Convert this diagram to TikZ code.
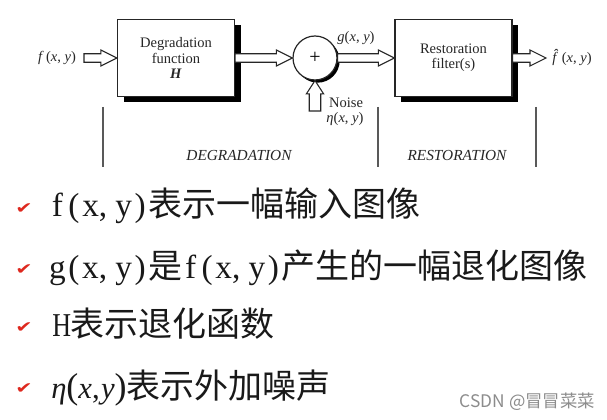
\documentclass[tikz,border=0pt]{standalone}
\usepackage{fontspec}
\setmainfont{Liberation Serif}
\newfontfamily\cjk{Noto Sans CJK SC}
\newfontfamily\symf{DejaVu Sans}
\usetikzlibrary{shadows,calc}
\definecolor{chkred}{RGB}{222,40,30}
\newcommand\hw[1]{\makebox[12.4pt][c]{#1}}
\newcommand\hwl[1]{\makebox[12.4pt][l]{#1}}
\newcommand\zh{\cjk\fontsize{25.5}{28}\selectfont}
\newcommand\bigp[1]{{\fontsize{27}{27}\selectfont #1}}
\begin{document}
\begin{tikzpicture}[x=0.75pt,y=-0.75pt,
  txt/.style={text=black!85, inner sep=0pt, font=\fontsize{10.9}{12.5}\selectfont},
  blk/.style={draw=black!85, line width=0.9pt, fill=white, minimum width=87.75pt, minimum height=57.75pt,
    align=center, inner sep=0pt, text=black!85, font=\fontsize{10.9}{11.3}\selectfont,
    general shadow={fill=black, shadow xshift=4.5pt, shadow yshift=-4.5pt}},
  sumc/.style={circle, draw=black!85, line width=0.9pt, fill=white, minimum size=33pt, inner sep=0pt,
    general shadow={fill=black, shadow xshift=2pt, shadow yshift=-2pt}},
  harrow/.style={fill=white, draw=black!85, line width=0.8pt, line join=miter,
    to path={let \p1=(\tikztostart), \p2=(\tikztotarget) in
      (\x1,\y1+3.2pt) -- (\x2-12pt,\y1+3.2pt) -- (\x2-12pt,\y1+6pt) -- (\x2,\y1)
      -- (\x2-12pt,\y1-6pt) -- (\x2-12pt,\y1-3.2pt) -- (\x1,\y1-3.2pt) -- cycle}},
  varrow/.style={fill=white, draw=black!85, line width=0.8pt, line join=miter,
    to path={let \p1=(\tikztostart), \p2=(\tikztotarget) in
      (\x1-4.3pt,\y1) -- (\x1-4.3pt,\y2-10pt) -- (\x1-6.5pt,\y2-10pt) -- (\x1,\y2)
      -- (\x1+6.5pt,\y2-10pt) -- (\x1+4.3pt,\y2-10pt) -- (\x1+4.3pt,\y1) -- cycle}},
  div/.style={draw=black!65, line width=0.9pt},
  sect/.style={text=black!85, inner sep=0pt, font=\fontsize{11.5}{13}\selectfont\itshape},
  chk/.style={text=chkred, inner sep=0pt, font=\symf\fontsize{15.5}{16}\selectfont},
  bline/.style={anchor=base west, inner sep=0pt, text=black!90, font=\fontsize{25}{28}\selectfont},
]
\useasboundingbox (0,0) rectangle (607,420);
\fill[white] (0,0) rectangle (607,420);

% blocks
\node[blk] (deg) at (176,58) {Degradation\\function\\\textbf{\textit{H}}};
\node[blk] (res) at (453.5,58) {Restoration\\filter(s)};
\node[sumc] (sum) at (315,58) {\fontsize{15}{15}\selectfont +};

% connectors
\coordinate (in) at (84,58);
\coordinate (out) at (546,58);
\coordinate (nz) at (315,111);
\draw[harrow] (in) to (deg.west);
\draw[harrow] (deg.east) to (sum.west);
\draw[harrow] (sum.east) to (res.west);
\draw[harrow] (res.east) to (out);
\draw[varrow] (nz) to (sum.south);

% labels
\node[txt] (fxy) at (57,58) {\textit{f}\,(\textit{x}, \textit{y})};
\node[txt] (gxy) at (356,38) {\textit{g}(\textit{x}, \textit{y})};
\node[txt] (fhat) at (572,58) {\textit{f^^^^0302}(\textit{x}, \textit{y})};
\node[txt] (noise) at (346,103) {Noise};
\node[txt] (eta) at (345,119) {\textit{η}(\textit{x}, \textit{y})};

% dividers
\draw[div] (103,107) -- (103,167);
\draw[div] (378,107) -- (378,167);
\draw[div] (536,107) -- (536,167);
\node[sect] (dlab) at (239,156) {DEGRADATION};
\node[sect] (rlab) at (457,156) {RESTORATION};

% bullet lines
\node[chk] (k1) at (24,209) {\scalebox{1}[0.75]{✔}};
\node[chk] (k2) at (24,270) {\scalebox{1}[0.75]{✔}};
\node[chk] (k3) at (24,328) {\scalebox{1}[0.75]{✔}};
\node[chk] (k4) at (24,389) {\scalebox{1}[0.75]{✔}};
\node[bline] (t1) at (49,217) {\hw{f}\hw{(}\hw{x}\hwl{,}\hw{y}\hw{)}{\zh 表示一幅输入图像}};
\node[bline] (t2) at (49,279) {\hw{g}\hw{(}\hw{x}\hwl{,}\hw{y}\hw{)}{\zh 是}\hw{f}\hw{(}\hw{x}\hwl{,}\hw{y}\hw{)}{\zh 产生的一幅退化图像}};
\node[bline] (t3) at (52,337) {\makebox[14pt][l]{\scalebox{0.78}[1]{H}}{\zh 表示退化函数}};
\node[bline] (t4) at (51,398) {\fontsize{23}{26}\selectfont\textit{η}\bigp{(}\textit{x},\kern1pt\textit{y}\bigp{)}{\zh 表示外加噪声}};

% watermark
\node[anchor=east, inner sep=0pt, text=black!45, font=\cjk\fontsize{13}{14}\selectfont] (wm) at (595,402) {CSDN @冒冒菜菜};
\end{tikzpicture}
\end{document}
